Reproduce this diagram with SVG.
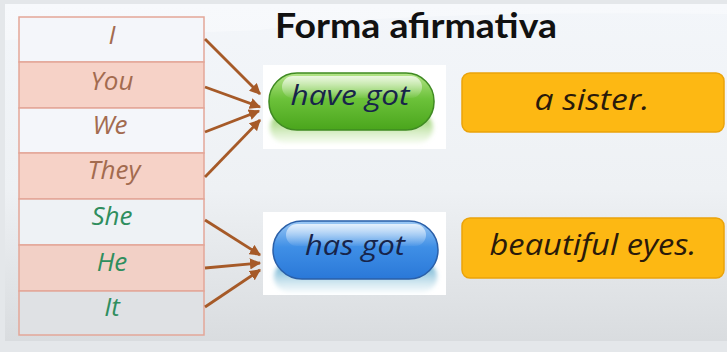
<svg xmlns="http://www.w3.org/2000/svg" width="727" height="352" viewBox="0 0 727 352">
<defs>
<linearGradient id="bg" x1="0" y1="0" x2="0" y2="1">
<stop offset="0" stop-color="#f3f6fa"/>
<stop offset="0.55" stop-color="#eef1f4"/>
<stop offset="1" stop-color="#d9dcdf"/>
</linearGradient>
<linearGradient id="green" x1="0" y1="0" x2="0" y2="1">
<stop offset="0" stop-color="#b6e58a"/>
<stop offset="0.45" stop-color="#6cc23a"/>
<stop offset="1" stop-color="#4aa51c"/>
</linearGradient>
<linearGradient id="greenRef" x1="0" y1="0" x2="0" y2="1">
<stop offset="0" stop-color="#7cc447"/>
<stop offset="1" stop-color="#d8efc4" stop-opacity="0.3"/>
</linearGradient>
<linearGradient id="blue" x1="0" y1="0" x2="0" y2="1">
<stop offset="0" stop-color="#9cc9f5"/>
<stop offset="0.45" stop-color="#3f8fe6"/>
<stop offset="1" stop-color="#2a78d8"/>
</linearGradient>
<linearGradient id="blueRef" x1="0" y1="0" x2="0" y2="1">
<stop offset="0" stop-color="#4aa0c8"/>
<stop offset="1" stop-color="#cfe6ee" stop-opacity="0.3"/>
</linearGradient>
<linearGradient id="gloss" x1="0" y1="0" x2="0" y2="1">
<stop offset="0" stop-color="#ffffff" stop-opacity="0.75"/>
<stop offset="1" stop-color="#ffffff" stop-opacity="0.05"/>
</linearGradient>
<filter id="blur" x="-10%" y="-50%" width="120%" height="200%"><feGaussianBlur stdDeviation="2"/></filter>
<marker id="ah" viewBox="0 0 10 10" refX="9" refY="5" markerWidth="4" markerHeight="4" orient="auto">
<path d="M0,0 L10,5 L0,10 z" fill="#a65a28"/>
</marker>
<style>
.hand{font-family:"Open Sans","Noto Sans",sans-serif;font-style:italic;text-anchor:middle}
.p{fill:#a36b4f;font-size:26px}
.g{fill:#2f8e5e;font-size:26px}
.row{stroke:#e3a698;stroke-width:1.5}
.pill{font-size:28px;fill:#17244a}
.ans{font-size:29px;fill:#2a1a0a}
.box{fill:#fdb813;stroke:#eaa30a;stroke-width:1.5}
.arr{stroke:#a65a28;stroke-width:2.8;fill:none;marker-end:url(#ah)}
</style>
</defs>
<rect width="727" height="352" fill="#e4e7ea"/>
<rect x="5" y="4" width="722" height="337" fill="url(#bg)"/>
<path d="M5,4 L727,4 L727,14 Q400,10 260,30 L5,40 z" fill="#ffffff" opacity="0.35"/>

<text x="275" y="38" font-family="Lato, 'Open Sans', sans-serif" font-weight="bold" font-size="34" fill="#111111" textLength="282" lengthAdjust="spacingAndGlyphs">Forma afirmativa</text>

<g id="table">
<g id="row-I"><rect class="row" x="19" y="17" width="185" height="45" fill="#f4f6fa"/><text class="hand p" x="112" y="44">I</text></g>
<g id="row-You"><rect class="row" x="19" y="62" width="185" height="46" fill="#f6d2c7"/><text class="hand p" x="112" y="90">You</text></g>
<g id="row-We"><rect class="row" x="19" y="108" width="185" height="45" fill="#f4f6fa"/><text class="hand p" x="110" y="134">We</text></g>
<g id="row-They"><rect class="row" x="19" y="153" width="185" height="46" fill="#f6d2c7"/><text class="hand p" x="114" y="179">They</text></g>
<g id="row-She"><rect class="row" x="19" y="199" width="185" height="46" fill="#eef2f5"/><text class="hand g" x="112" y="225">She</text></g>
<g id="row-He"><rect class="row" x="19" y="245" width="185" height="46" fill="#f2d0c6"/><text class="hand g" x="112" y="271">He</text></g>
<g id="row-It"><rect class="row" x="19" y="291" width="185" height="44" fill="#dfe1e4"/><text class="hand g" x="112" y="316">It</text></g>
</g>

<g id="connectors">
<line class="arr" x1="205" y1="39" x2="260" y2="94"/>
<line class="arr" x1="205" y1="87" x2="260" y2="107"/>
<line class="arr" x1="205" y1="132" x2="259" y2="111"/>
<line class="arr" x1="205" y1="177" x2="260" y2="120"/>
<line class="arr" x1="205" y1="220" x2="260" y2="255"/>
<line class="arr" x1="205" y1="268" x2="260" y2="263"/>
<line class="arr" x1="205" y1="307" x2="260" y2="270"/>
</g>

<g id="have-got">
<rect x="263" y="65" width="183" height="84" fill="#ffffff"/>
<rect x="270" y="113" width="163" height="30" rx="15" fill="url(#greenRef)" filter="url(#blur)"/>
<rect x="269" y="73" width="165" height="57" rx="28" fill="url(#green)" stroke="#3f8a22" stroke-width="1.5"/>
<rect x="282" y="76" width="140" height="22" rx="11" fill="url(#gloss)"/>
<text class="hand pill" x="350" y="105" textLength="119" lengthAdjust="spacingAndGlyphs">have got</text>
</g>

<g id="has-got">
<rect x="263" y="212" width="183" height="83" fill="#ffffff"/>
<rect x="274" y="262" width="163" height="30" rx="15" fill="url(#blueRef)" filter="url(#blur)"/>
<rect x="273" y="221" width="165" height="58" rx="29" fill="url(#blue)" stroke="#2a5fa8" stroke-width="1.5"/>
<rect x="286" y="224" width="140" height="22" rx="11" fill="url(#gloss)"/>
<text class="hand pill" x="355" y="255" textLength="100" lengthAdjust="spacingAndGlyphs">has got</text>
</g>

<g id="a-sister">
<rect class="box" x="462" y="73" width="262" height="59" rx="8"/>
<text class="hand ans" x="592" y="110" textLength="115" lengthAdjust="spacingAndGlyphs">a sister.</text>
</g>

<g id="beautiful-eyes">
<rect class="box" x="462" y="218" width="262" height="60" rx="8"/>
<text class="hand ans" x="593" y="255" textLength="207" lengthAdjust="spacingAndGlyphs">beautiful eyes.</text>
</g>
</svg>
